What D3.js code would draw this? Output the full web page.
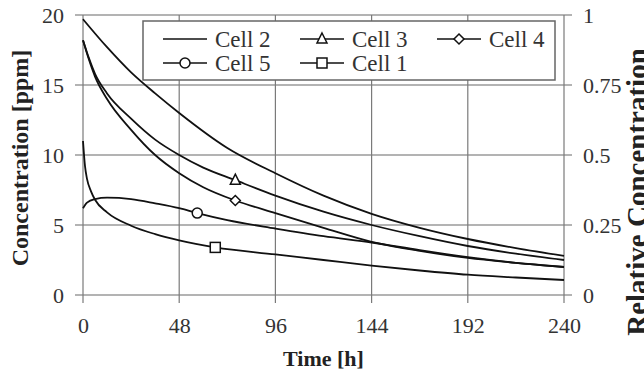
<!DOCTYPE html>
<html>
<head>
<meta charset="utf-8">
<script src="https://cdn.jsdelivr.net/npm/d3@7"></script>
<style>
  body { margin: 0; padding: 0; background: #fff; }
  svg { display: block; }
</style>
</head>
<body>
<svg id="chart" width="644" height="373"></svg>
<script>
// data
var xTicks = [0, 48, 96, 144, 192, 240];
var yTicks = [0, 5, 10, 15, 20];
var rTicks = [0, 0.25, 0.5, 0.75, 1];
var rTickLabels = ['0', '0.25', '0.5', '0.75', '1'];

var timeCell1 = [0, 1, 2, 4, 6, 12, 24, 36, 48, 66, 96, 120, 144, 168, 192, 216, 240];
var cell1 = [11.0, 9.2, 8.3, 7.4, 6.8, 5.9, 4.95, 4.35, 3.9, 3.4, 2.9, 2.5, 2.1, 1.75, 1.45, 1.25, 1.07];

var timeCell2 = [0, 12, 24, 36, 48, 72, 96, 120, 144, 168, 192, 216, 240];
var cell2 = [19.7, 17.7, 15.9, 14.4, 13.0, 10.5, 8.7, 7.1, 5.8, 4.8, 4.0, 3.35, 2.8];

var timeCell3 = [0, 3, 6, 12, 24, 36, 48, 60, 76, 96, 120, 144, 168, 192, 216, 240];
var cell3 = [18.2, 16.9, 15.8, 14.4, 12.6, 11.1, 10.0, 9.1, 8.2, 7.1, 5.95, 5.0, 4.2, 3.5, 2.95, 2.5];

var timeCell4 = [0, 3, 6, 12, 24, 36, 48, 60, 76, 96, 120, 144, 168, 192, 216, 240];
var cell4 = [18.2, 16.8, 15.6, 14.0, 11.8, 10.0, 8.7, 7.7, 6.75, 5.85, 4.8, 3.8, 3.15, 2.65, 2.3, 2.0];

var timeCell5 = [0, 2, 6, 12, 24, 36, 48, 57, 72, 96, 120, 144, 168, 192, 216, 240];
var cell5 = [6.2, 6.6, 6.85, 6.95, 6.85, 6.55, 6.2, 5.85, 5.35, 4.75, 4.2, 3.75, 3.2, 2.7, 2.3, 2.0];

// legend order as in the picture, with the time where the single marker sits
var seriesNames = ['Cell 2', 'Cell 3', 'Cell 4', 'Cell 5', 'Cell 1'];
var seriesTimes = [timeCell2, timeCell3, timeCell4, timeCell5, timeCell1];
var seriesValues = [cell2, cell3, cell4, cell5, cell1];
var seriesMarker = ['none', 'triangle', 'diamond', 'circle', 'square'];
var markerTime = [null, 76, 76, 57, 66];

var W = 644, H = 373;
var plotL = 83, plotR = 564, plotT = 15, plotB = 295;
var serif = '"Liberation Serif", "Times New Roman", serif';

var svg = d3.select('#chart');
svg.append('rect').attr('width', W).attr('height', H).attr('fill', '#fff');

var x = d3.scaleLinear().domain([0, 240]).range([plotL, plotR]);
var y = d3.scaleLinear().domain([0, 20]).range([plotB, plotT]);
var yR = d3.scaleLinear().domain([0, 1]).range([plotB, plotT]);

// grid
svg.append('g').selectAll('line').data(yTicks).enter().append('line')
  .attr('x1', plotL - 8).attr('x2', plotR + 8)
  .attr('y1', function(d) { return y(d); }).attr('y2', function(d) { return y(d); })
  .attr('stroke', '#9a9a9a').attr('stroke-width', 1.6);

svg.append('g').selectAll('line').data(xTicks).enter().append('line')
  .attr('x1', function(d) { return x(d); }).attr('x2', function(d) { return x(d); })
  .attr('y1', plotT).attr('y2', plotB + 8)
  .attr('stroke', '#7a7a7a').attr('stroke-width', 1.2);

// axes
var leftAxis = d3.axisLeft(y).tickValues(yTicks).tickSize(0).tickPadding(19);
var gL = svg.append('g').attr('transform', 'translate(' + plotL + ',0)').call(leftAxis);

var bottomAxis = d3.axisBottom(x).tickValues(xTicks).tickSize(0).tickPadding(22);
var gB = svg.append('g').attr('transform', 'translate(0,' + plotB + ')').call(bottomAxis);

var rightAxis = d3.axisRight(yR).tickValues(rTicks).tickSize(0).tickPadding(19)
  .tickFormat(function(d, i) { return rTickLabels[i]; });
var gR = svg.append('g').attr('transform', 'translate(' + plotR + ',0)').call(rightAxis);

[gL, gB, gR].forEach(function(g) {
  g.select('.domain').remove();
  g.selectAll('text')
    .style('font-family', serif)
    .style('font-size', '22px')
    .attr('fill', '#333');
});

// curves
var line = d3.line()
  .x(function(d) { return x(d.t); })
  .y(function(d) { return y(d.v); })
  .curve(d3.curveMonotoneX);

var series = seriesNames.map(function(name, i) {
  return {
    name: name,
    marker: seriesMarker[i],
    mt: markerTime[i],
    points: seriesTimes[i].map(function(t, j) { return { t: t, v: seriesValues[i][j] }; })
  };
});

svg.append('g').selectAll('path').data(series).enter().append('path')
  .attr('d', function(d) { return line(d.points); })
  .attr('fill', 'none')
  .attr('stroke', '#111')
  .attr('stroke-width', 1.8);

function drawMarker(g, type, cx, cy) {
  var s = 5;
  if (type === 'circle') {
    g.append('circle').attr('cx', cx).attr('cy', cy).attr('r', s);
  } else if (type === 'square') {
    g.append('rect').attr('x', cx - s).attr('y', cy - s).attr('width', 2 * s).attr('height', 2 * s);
  } else if (type === 'triangle') {
    g.append('path').attr('d', 'M' + cx + ',' + (cy - s - 1) + 'L' + (cx + s) + ',' + (cy + s - 1) + 'L' + (cx - s) + ',' + (cy + s - 1) + 'Z');
  } else if (type === 'diamond') {
    g.append('path').attr('d', 'M' + cx + ',' + (cy - s) + 'L' + (cx + s) + ',' + cy + 'L' + cx + ',' + (cy + s) + 'L' + (cx - s) + ',' + cy + 'Z');
  }
}

var markers = svg.append('g').attr('fill', '#fff').attr('stroke', '#111').attr('stroke-width', 1.5);
series.forEach(function(s) {
  if (s.mt === null) return;
  var p = s.points.filter(function(d) { return d.t === s.mt; })[0];
  drawMarker(markers, s.marker, x(p.t), y(p.v));
});

// legend
var legend = svg.append('g');
legend.append('rect')
  .attr('x', 143).attr('y', 21).attr('width', 412).attr('height', 59)
  .attr('fill', '#fff').attr('stroke', '#666').attr('stroke-width', 1.5);

var colX = [163, 300, 437];
var rowY = [39, 63];
series.forEach(function(s, i) {
  var lx = colX[i % 3], ly = rowY[Math.floor(i / 3)];
  var g = legend.append('g');
  g.append('line').attr('x1', lx).attr('x2', lx + 44).attr('y1', ly).attr('y2', ly)
    .attr('stroke', '#111').attr('stroke-width', 1.6);
  var mg = g.append('g').attr('fill', '#fff').attr('stroke', '#111').attr('stroke-width', 1.5);
  drawMarker(mg, s.marker, lx + 22, ly);
  g.append('text').attr('x', lx + 52).attr('y', ly).attr('dy', '0.35em')
    .style('font-family', serif).style('font-size', '23px').attr('fill', '#333')
    .text(s.name);
});

// axis titles
svg.append('text')
  .attr('transform', 'translate(' + ((plotL + plotR) / 2) + ',366)')
  .attr('text-anchor', 'middle')
  .style('font-family', serif).style('font-size', '22px').style('font-weight', 'bold')
  .attr('fill', '#222')
  .text('Time [h]');

svg.append('text')
  .attr('transform', 'translate(28,158) rotate(-90)')
  .attr('text-anchor', 'middle')
  .style('font-family', serif).style('font-size', '24px').style('font-weight', 'bold')
  .attr('fill', '#222')
  .text('Concentration [ppm]');

svg.append('text')
  .attr('transform', 'translate(647,192) rotate(-90)')
  .attr('text-anchor', 'middle')
  .style('font-family', serif).style('font-size', '29px').style('font-weight', 'bold')
  .attr('fill', '#222')
  .text('Relative Concentration');
</script>
</body>
</html>
